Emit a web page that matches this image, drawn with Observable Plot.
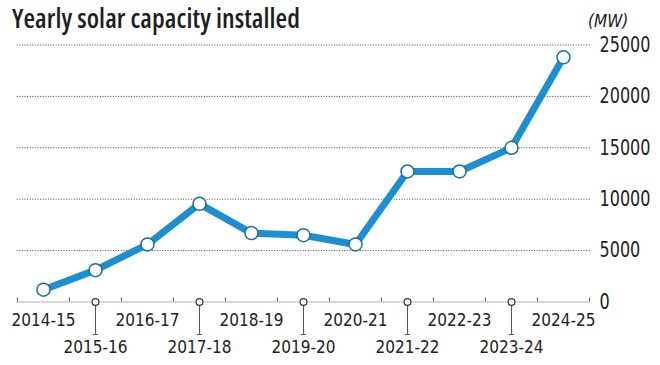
<!DOCTYPE html>
<html><head><meta charset="utf-8">
<script src="https://cdn.jsdelivr.net/npm/d3@7"></script>
<script src="https://cdn.jsdelivr.net/npm/@observablehq/plot@0.6"></script>
<style>
body{margin:0;background:#fff;}
#wrap{width:660px;height:365px;font-family:"DejaVu Sans Condensed","DejaVu Sans",sans-serif;font-stretch:condensed;color:#222;}
#head{position:relative;width:660px;height:36px;}
#title{position:absolute;left:12px;top:0px;line-height:normal;font-family:"Open Sans",sans-serif;font-stretch:75%;font-size:26.5px;font-weight:600;white-space:nowrap;color:#1e1e1e;}
#unit{position:absolute;left:588px;top:11px;font-size:17px;line-height:1.2;font-style:italic;white-space:nowrap;}
svg{display:block;}
</style></head>
<body>
<div id="wrap"><div id="head"><div id="title">Yearly solar capacity installed</div><div id="unit">(MW)</div></div></div>
<script>
const years = ["2014-15","2015-16","2016-17","2017-18","2018-19","2019-20","2020-21","2021-22","2022-23","2023-24","2024-25"];
const capacity = [1200,3100,5600,9550,6700,6500,5600,12700,12700,15000,23800];
const yTicks = [0,5000,10000,15000,20000,25000];

const data = years.map((y,i)=>({year:y,value:capacity[i],i}));
const odd = data.filter(d=>d.i%2===1);
const even = data.filter(d=>d.i%2===0);
const W=660,H=329,mL=16.7,mR=70,mT=8.5,mB=63.5;
const step=(W-mL-mR)/years.length;
const frameH=H-mT-mB;
const grey="#555";
const hbar={draw(ctx){ctx.moveTo(-2.5,0);ctx.lineTo(2.5,0);}};

const chart = Plot.plot({
  width:W,height:H,marginLeft:mL,marginRight:mR,marginTop:mT,marginBottom:mB,
  style:{fontFamily:'"DejaVu Sans Condensed","DejaVu Sans",sans-serif',fontStretch:"condensed",fontSize:"17px",color:"#222",background:"transparent",overflow:"visible"},
  x:{type:"point",domain:years,padding:0.5,axis:null},
  y:{domain:[0,25000],axis:null},
  marks:[
    Plot.ruleY(yTicks.filter(t=>t>0),{y:d=>d,stroke:"#444",strokeWidth:1,strokeDasharray:"1,1.6"}),
    Plot.ruleY([0],{stroke:"#666",strokeWidth:1,strokeDasharray:"1,1"}),
    Plot.ruleX(data,{x:"year",dx:-step/2,insetTop:frameH-4,stroke:grey,strokeWidth:1}),
    Plot.ruleX([years[years.length-1]],{x:d=>d,dx:step/2,insetTop:frameH-4,stroke:grey,strokeWidth:1}),
    Plot.text(yTicks,{y:d=>d,text:d=>String(d),frameAnchor:"right",textAnchor:"start",dx:9,fontSize:21.5,fill:"#222",className:"ylab"}),
    Plot.ruleX(odd,{x:"year",insetTop:frameH,insetBottom:-32.5,stroke:grey,strokeWidth:1}),
    Plot.dot(odd,{x:"year",frameAnchor:"bottom",dy:32.5,symbol:hbar,stroke:grey,strokeWidth:1,r:3}),
    Plot.dot(odd,{x:"year",frameAnchor:"bottom",r:3.4,fill:"white",stroke:"#333",strokeWidth:1.2}),
    Plot.text(even,{x:"year",text:"year",frameAnchor:"bottom",dy:24,fontSize:17,fill:"#222"}),
    Plot.text(odd,{x:"year",text:"year",frameAnchor:"bottom",dy:51,fontSize:17,fill:"#222"}),
    Plot.line(data,{x:"year",y:"value",stroke:"#1b8fd2",strokeWidth:7,strokeLinejoin:"round"}),
    Plot.dot(data,{x:"year",y:"value",r:6.5,fill:"white",stroke:"#1f6e9c",strokeWidth:1.5})
  ]
});
document.getElementById("wrap").appendChild(chart);
chart.querySelectorAll(".ylab text").forEach(t=>{
  t.setAttribute("textLength",String(t.textContent.length*10.2));
  t.setAttribute("lengthAdjust","spacingAndGlyphs");
});
const title=document.getElementById("title");
const tw=title.getBoundingClientRect().width;
const n=title.textContent.length;
title.style.letterSpacing=`${Math.max(-1.5,(288-tw)/n)}px`;
</script>
</body></html>
